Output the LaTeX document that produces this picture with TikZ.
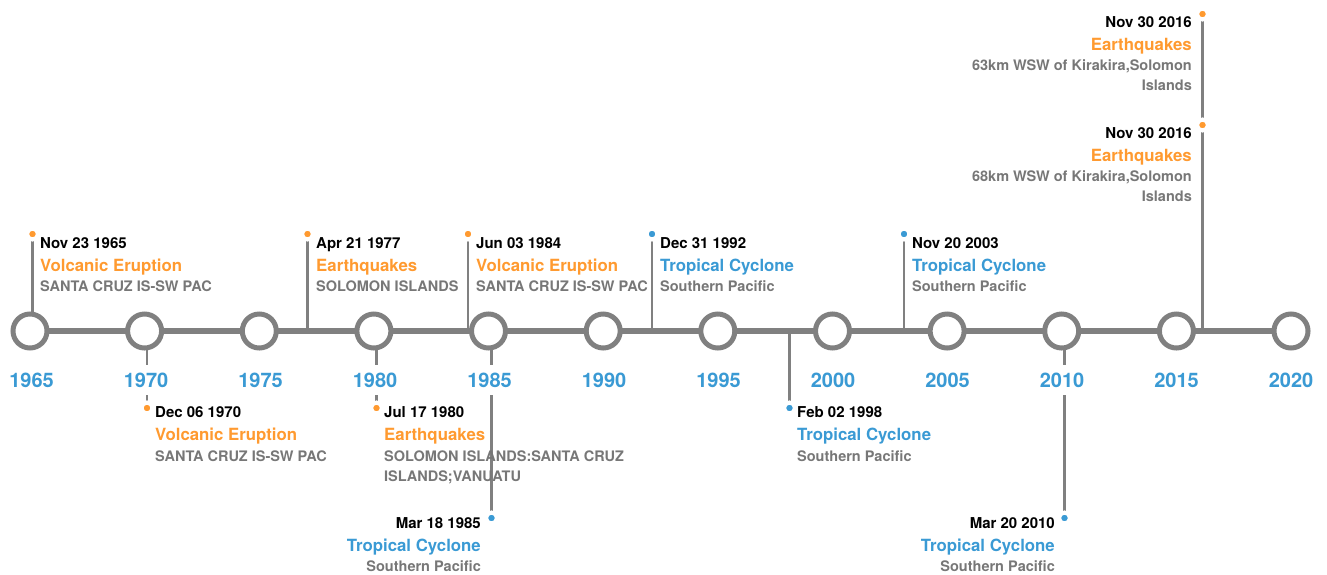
\documentclass[tikz,border=0pt]{standalone}
\usepackage{fontspec}
\setmainfont{TeX Gyre Heros}
\definecolor{quake}{HTML}{FF9A30}
\definecolor{storm}{HTML}{3A9AD4}
\definecolor{axisgray}{HTML}{808080}
\definecolor{descgray}{HTML}{777777}
\tikzset{
  yearring/.style={circle,draw=axisgray,fill=white,line width=5,minimum size=34,inner sep=0},
  yearlabel/.style={fill=white,text=storm,inner xsep=2,inner ysep=8,anchor=base,font=\fontsize{20}{24}\selectfont\bfseries},
  stem/.style={draw=axisgray,line width=2.5},
  evdot/.style={circle,draw=white,line width=4,minimum size=11,inner sep=0},
  evdate/.style={inner sep=0,font=\fontsize{15}{20}\selectfont\bfseries},
  evtitle/.style={inner sep=0,font=\fontsize{16.8}{20}\selectfont\bfseries},
  evdesc/.style={inner sep=0,text=descgray,font=\fontsize{14.5}{20}\selectfont\bfseries}
}
\begin{document}
\begin{tikzpicture}[x=1pt,y=-1pt]
\useasboundingbox (0,0) rectangle (1327,574);
% axis
\draw[axisgray,line width=6] (30,331) -- (1291,331);
% stems
\coordinate (a65) at (32.5,331);   \coordinate (p65) at (32.5,234);
\coordinate (a70) at (147,331);    \coordinate (p70) at (147,408);
\coordinate (a77) at (307.5,331);  \coordinate (p77) at (307.5,234);
\coordinate (a80) at (376.5,331);  \coordinate (p80) at (376.5,408);
\coordinate (a84) at (468,331);    \coordinate (p84) at (468,234);
\coordinate (a85) at (491.5,331);  \coordinate (p85) at (491.5,518);
\coordinate (a92) at (652,331);    \coordinate (p92) at (652,234);
\coordinate (a98) at (789.5,331);  \coordinate (p98) at (789.5,408);
\coordinate (a03) at (904,331);    \coordinate (p03) at (904,234);
\coordinate (a10) at (1064.5,331); \coordinate (p10) at (1064.5,518);
\coordinate (a16) at (1202.5,331); \coordinate (p16a) at (1202.5,14); \coordinate (p16b) at (1202.5,125);
\draw[stem] (a65) -- (p65);
\draw[stem] (a70) -- (p70);
\draw[stem] (a77) -- (p77);
\draw[stem] (a80) -- (p80);
\draw[stem] (a84) -- (p84);
\draw[stem] (a85) -- (p85);
\draw[stem] (a92) -- (p92);
\draw[stem] (a98) -- (p98);
\draw[stem] (a03) -- (p03);
\draw[stem] (a10) -- (p10);
\draw[stem] (a16) -- (p16a);
% year rings and labels
\node[yearring] (r1965) at (30,331) {};
\node[yearring] (r1970) at (144.6,331) {};
\node[yearring] (r1975) at (259.3,331) {};
\node[yearring] (r1980) at (373.9,331) {};
\node[yearring] (r1985) at (488.5,331) {};
\node[yearring] (r1990) at (603.2,331) {};
\node[yearring] (r1995) at (717.8,331) {};
\node[yearring] (r2000) at (832.5,331) {};
\node[yearring] (r2005) at (947.1,331) {};
\node[yearring] (r2010) at (1061.7,331) {};
\node[yearring] (r2015) at (1176.4,331) {};
\node[yearring] (r2020) at (1291,331) {};
\node[yearlabel] (y1965) at (31.5,387) {1965};
\node[yearlabel] (y1970) at (146,387) {1970};
\node[yearlabel] (y1975) at (260.5,387) {1975};
\node[yearlabel] (y1980) at (375,387) {1980};
\node[yearlabel] (y1985) at (489.5,387) {1985};
\node[yearlabel] (y1990) at (604,387) {1990};
\node[yearlabel] (y1995) at (718.5,387) {1995};
\node[yearlabel] (y2000) at (833,387) {2000};
\node[yearlabel] (y2005) at (947.5,387) {2005};
\node[yearlabel] (y2010) at (1062,387) {2010};
\node[yearlabel] (y2015) at (1176.5,387) {2015};
\node[yearlabel] (y2020) at (1291,387) {2020};
% events
\node[evdot,fill=quake] (d65) at (p65) {};
\node[evdate,anchor=base west] (t65) at (40,248) {Nov 23 1965};
\node[evtitle,anchor=base west,text=quake] (h65) at (40,271) {Volcanic Eruption};
\node[evdesc,anchor=base west] (s65) at (40,291) {SANTA CRUZ IS-SW PAC};
\node[evdot,fill=quake] (d70) at (p70) {};
\node[evdate,anchor=base west] (t70) at (155,417) {Dec 06 1970};
\node[evtitle,anchor=base west,text=quake] (h70) at (155,440) {Volcanic Eruption};
\node[evdesc,anchor=base west] (s70) at (155,461) {SANTA CRUZ IS-SW PAC};
\node[evdot,fill=quake] (d77) at (p77) {};
\node[evdate,anchor=base west] (t77) at (316,248) {Apr 21 1977};
\node[evtitle,anchor=base west,text=quake] (h77) at (316,271) {Earthquakes};
\node[evdesc,anchor=base west] (s77) at (316,291) {SOLOMON ISLANDS};
\node[evdot,fill=quake] (d80) at (p80) {};
\node[evdate,anchor=base west] (t80) at (384,417) {Jul 17 1980};
\node[evtitle,anchor=base west,text=quake] (h80) at (384,440) {Earthquakes};
\node[evdesc,anchor=base west,align=left] (s80) at (384,481) {SOLOMON ISLANDS:SANTA CRUZ\\ISLANDS;VANUATU};
\node[evdot,fill=quake] (d84) at (p84) {};
\node[evdate,anchor=base west] (t84) at (476,248) {Jun 03 1984};
\node[evtitle,anchor=base west,text=quake] (h84) at (476,271) {Volcanic Eruption};
\node[evdesc,anchor=base west] (s84) at (476,291) {SANTA CRUZ IS-SW PAC};
\node[evdot,fill=storm] (d85) at (p85) {};
\node[evdate,anchor=base east] (t85) at (481,528) {Mar 18 1985};
\node[evtitle,anchor=base east,text=storm] (h85) at (481,551) {Tropical Cyclone};
\node[evdesc,anchor=base east] (s85) at (481,571) {Southern Pacific};
\node[evdot,fill=storm] (d92) at (p92) {};
\node[evdate,anchor=base west] (t92) at (660,248) {Dec 31 1992};
\node[evtitle,anchor=base west,text=storm] (h92) at (660,271) {Tropical Cyclone};
\node[evdesc,anchor=base west] (s92) at (660,291) {Southern Pacific};
\node[evdot,fill=storm] (d98) at (p98) {};
\node[evdate,anchor=base west] (t98) at (797,417) {Feb 02 1998};
\node[evtitle,anchor=base west,text=storm] (h98) at (797,440) {Tropical Cyclone};
\node[evdesc,anchor=base west] (s98) at (797,461) {Southern Pacific};
\node[evdot,fill=storm] (d03) at (p03) {};
\node[evdate,anchor=base west] (t03) at (912,248) {Nov 20 2003};
\node[evtitle,anchor=base west,text=storm] (h03) at (912,271) {Tropical Cyclone};
\node[evdesc,anchor=base west] (s03) at (912,291) {Southern Pacific};
\node[evdot,fill=storm] (d10) at (p10) {};
\node[evdate,anchor=base east] (t10) at (1055,528) {Mar 20 2010};
\node[evtitle,anchor=base east,text=storm] (h10) at (1055,551) {Tropical Cyclone};
\node[evdesc,anchor=base east] (s10) at (1055,571) {Southern Pacific};
\node[evdot,fill=quake] (d16a) at (p16a) {};
\node[evdate,anchor=base east] (t16a) at (1192,27) {Nov 30 2016};
\node[evtitle,anchor=base east,text=quake] (h16a) at (1192,50) {Earthquakes};
\node[evdesc,anchor=base east,align=right] (s16a) at (1192,90) {63km WSW of Kirakira,Solomon\\Islands};
\node[evdot,fill=quake] (d16b) at (p16b) {};
\node[evdate,anchor=base east] (t16b) at (1192,138) {Nov 30 2016};
\node[evtitle,anchor=base east,text=quake] (h16b) at (1192,161) {Earthquakes};
\node[evdesc,anchor=base east,align=right] (s16b) at (1192,201) {68km WSW of Kirakira,Solomon\\Islands};
\end{tikzpicture}
\end{document}
